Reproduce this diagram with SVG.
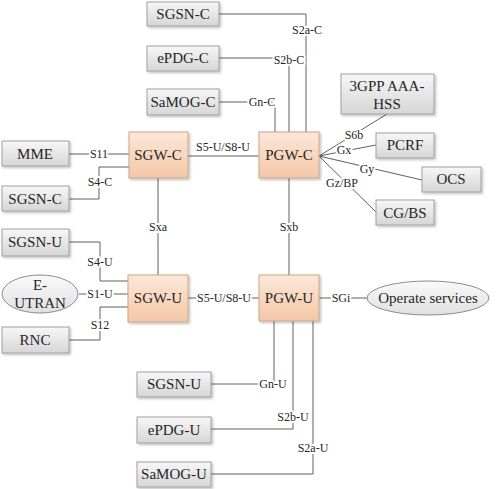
<svg xmlns="http://www.w3.org/2000/svg" width="500" height="489" viewBox="0 0 500 489" font-family="'Liberation Serif', 'DejaVu Serif', 'Times New Roman', serif">
<style>
.g rect{fill:url(#gg);stroke:#a0a0a0;stroke-width:1;filter:url(#sh)}
.o rect{fill:url(#og);stroke:#c9a68c;stroke-width:1;filter:url(#sh)}
.e ellipse{fill:url(#eg);stroke:#8c8c8c;stroke-width:1}
text{font-family:'Liberation Serif','DejaVu Serif','Times New Roman',serif;fill:#262626;text-anchor:middle;dominant-baseline:central}
.n text{font-size:15px}
.lab{font-size:12px;stroke:#fff;stroke-width:4;paint-order:stroke;stroke-linejoin:round}
#conn path{fill:none;stroke:#606060;stroke-width:1}
</style>
<defs>
<linearGradient id="gg" x1="0" y1="0" x2="0" y2="1"><stop offset="0" stop-color="#f7f7f7"/><stop offset="1" stop-color="#d6d6d6"/></linearGradient>
<linearGradient id="og" x1="0" y1="0" x2="0" y2="1"><stop offset="0" stop-color="#fce8d8"/><stop offset="1" stop-color="#f3c7a6"/></linearGradient>
<linearGradient id="eg" x1="0" y1="0" x2="0" y2="1"><stop offset="0" stop-color="#fafafa"/><stop offset="1" stop-color="#e0e0e0"/></linearGradient>
<filter id="sh" x="-10%" y="-10%" width="130%" height="140%"><feDropShadow dx="1.5" dy="1.5" stdDeviation="1" flood-color="#000" flood-opacity="0.25"/></filter>
</defs>
<rect width="500" height="489" fill="#fff"/>
<g id="conn">
<path d="M219,14 H306 V132"/>
<path d="M219,58 H289 V132"/>
<path d="M219,102 H275 V132"/>
<path d="M188,156 H259"/>
<path d="M69,154 H129"/>
<path d="M69,199 H99 V167 H129"/>
<path d="M158,178 V275"/>
<path d="M289,178 V275"/>
<path d="M69,242 H100 V281 H128"/>
<path d="M79,294 H128"/>
<path d="M69,340 H100 V307 H128"/>
<path d="M188,298 H259"/>
<path d="M319,298 H367"/>
<path d="M211,384 H274 V321"/>
<path d="M211,429 H293 V321"/>
<path d="M211,474 H313 V321"/>
<path d="M319,156 L387,114"/>
<path d="M319,156 L376,145"/>
<path d="M319,156 L422,180"/>
<path d="M319,156 L376,212"/>
<text class="lab" x="307" y="30">S2a-C</text>
<text class="lab" x="289" y="60">S2b-C</text>
<text class="lab" x="262" y="102">Gn-C</text>
<text class="lab" x="223" y="147">S5-U/S8-U</text>
<text class="lab" x="99" y="154">S11</text>
<text class="lab" x="100" y="182">S4-C</text>
<text class="lab" x="158" y="227">Sxa</text>
<text class="lab" x="289" y="227">Sxb</text>
<text class="lab" x="100" y="262">S4-U</text>
<text class="lab" x="100" y="294">S1-U</text>
<text class="lab" x="100" y="325">S12</text>
<text class="lab" x="224" y="298">S5-U/S8-U</text>
<text class="lab" x="341" y="298">SGi</text>
<text class="lab" x="273" y="384">Gn-U</text>
<text class="lab" x="293" y="417">S2b-U</text>
<text class="lab" x="313" y="448">S2a-U</text>
<text class="lab" x="354" y="135">S6b</text>
<text class="lab" x="344" y="150">Gx</text>
<text class="lab" x="367" y="169">Gy</text>
<text class="lab" x="342" y="183">Gz/BP</text>
</g>
<g id="sgsn-c-top" class="n g"><rect x="147" y="2" width="72" height="24"/><text x="183" y="14">SGSN-C</text></g>
<g id="epdg-c" class="n g"><rect x="147" y="46" width="72" height="25"/><text x="183" y="58">ePDG-C</text></g>
<g id="samog-c" class="n g"><rect x="147" y="89" width="72" height="26"/><text x="183" y="102">SaMOG-C</text></g>
<g id="aaa" class="n g"><rect x="341" y="74" width="93" height="40"/><text x="387" y="86">3GPP AAA-</text><text x="387" y="104">HSS</text></g>
<g id="pcrf" class="n g"><rect x="376" y="133" width="58" height="25"/><text x="405" y="145">PCRF</text></g>
<g id="ocs" class="n g"><rect x="422" y="167" width="59" height="25"/><text x="451" y="179">OCS</text></g>
<g id="cgbs" class="n g"><rect x="376" y="200" width="58" height="25"/><text x="405" y="213">CG/BS</text></g>
<g id="mme" class="n g"><rect x="2" y="141" width="67" height="25"/><text x="35" y="154">MME</text></g>
<g id="sgsn-c" class="n g"><rect x="2" y="186" width="67" height="25"/><text x="35" y="199">SGSN-C</text></g>
<g id="sgsn-u" class="n g"><rect x="2" y="229" width="67" height="27"/><text x="35" y="242">SGSN-U</text></g>
<g id="rnc" class="n g"><rect x="2" y="327" width="67" height="26"/><text x="35" y="340">RNC</text></g>
<g id="sgw-c" class="n o"><rect x="129" y="132" width="59" height="46"/><text x="158" y="155">SGW-C</text></g>
<g id="pgw-c" class="n o"><rect x="259" y="132" width="60" height="46"/><text x="289" y="155">PGW-C</text></g>
<g id="sgw-u" class="n o"><rect x="128" y="275" width="60" height="47"/><text x="158" y="298">SGW-U</text></g>
<g id="pgw-u" class="n o"><rect x="259" y="275" width="60" height="46"/><text x="289" y="298">PGW-U</text></g>
<g id="eutran" class="n e"><ellipse cx="40" cy="294" rx="38" ry="19"/><text x="40" y="285">E-</text><text x="40" y="303">UTRAN</text></g>
<g id="operate" class="n e"><ellipse cx="428" cy="298" rx="61" ry="17"/><text x="428" y="298">Operate services</text></g>
<g id="sgsn-u-b" class="n g"><rect x="137" y="372" width="74" height="25"/><text x="174" y="384">SGSN-U</text></g>
<g id="epdg-u" class="n g"><rect x="137" y="417" width="74" height="26"/><text x="174" y="430">ePDG-U</text></g>
<g id="samog-u" class="n g"><rect x="137" y="462" width="74" height="25"/><text x="174" y="474">SaMOG-U</text></g>
</svg>
